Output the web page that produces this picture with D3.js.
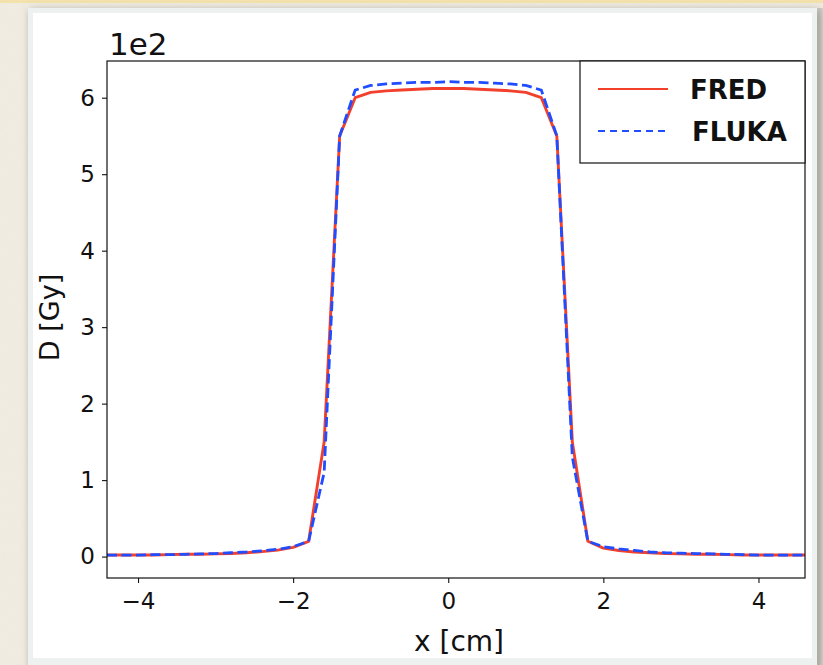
<!DOCTYPE html>
<html>
<head>
<meta charset="utf-8">
<script src="https://cdn.jsdelivr.net/npm/d3@7"></script>
<style>
  html, body { margin: 0; padding: 0; background: #f3eee4; }
  svg { display: block; }
  text { font-family: "DejaVu Sans", sans-serif; fill: #111; }
</style>
</head>
<body>
<svg id="chart" width="823" height="665"></svg>
<script>
// Lateral dose profile, dose in units of 1e2 Gy
const xPositions = [
  -4.4, -4.2, -4.0, -3.8, -3.6, -3.4, -3.2, -3.0, -2.8, -2.6,
  -2.4, -2.2, -2.0, -1.8, -1.6, -1.4, -1.2, -1.0, -0.8, -0.6,
  -0.4, -0.2, 0.0, 0.2, 0.4, 0.6, 0.8, 1.0, 1.2, 1.4,
  1.6, 1.8, 2.0, 2.2, 2.4, 2.6, 2.8, 3.0, 3.2, 3.4,
  3.6, 3.8, 4.0, 4.2, 4.4, 4.6
];
const fredDose = [
  0.02, 0.02, 0.02, 0.02, 0.025, 0.03, 0.03, 0.035, 0.04, 0.05,
  0.065, 0.085, 0.12, 0.20, 1.50, 5.50, 6.00, 6.07, 6.09, 6.10,
  6.11, 6.12, 6.12, 6.12, 6.11, 6.10, 6.09, 6.07, 6.00, 5.50,
  1.50, 0.20, 0.11, 0.08, 0.06, 0.05, 0.04, 0.035, 0.03, 0.03,
  0.025, 0.02, 0.02, 0.02, 0.02, 0.02
];
const flukaDose = [
  0.02, 0.02, 0.02, 0.025, 0.025, 0.03, 0.035, 0.04, 0.05, 0.06,
  0.075, 0.095, 0.13, 0.20, 1.10, 5.50, 6.10, 6.16, 6.18, 6.19,
  6.20, 6.20, 6.21, 6.20, 6.20, 6.19, 6.18, 6.16, 6.10, 5.50,
  1.30, 0.20, 0.13, 0.10, 0.08, 0.06, 0.05, 0.045, 0.04, 0.035,
  0.03, 0.025, 0.02, 0.02, 0.02, 0.02
];
const xTicks = [-4, -2, 0, 2, 4];
const yTicks = [0, 1, 2, 3, 4, 5, 6];
const seriesNames = ["FRED", "FLUKA"];
const seriesColors = ["#f3402d", "#1f4dff"];

const svg = d3.select("#chart");
const defs = svg.append("defs");

// paper texture for the page background
const paper = defs.append("filter").attr("id", "paper")
  .attr("x", 0).attr("y", 0).attr("width", "100%").attr("height", "100%");
paper.append("feTurbulence").attr("type", "fractalNoise")
  .attr("baseFrequency", 0.9).attr("numOctaves", 2).attr("seed", 3).attr("result", "noise");
paper.append("feColorMatrix").attr("in", "noise").attr("type", "matrix")
  .attr("values", "0 0 0 0 0.55  0 0 0 0 0.5  0 0 0 0 0.42  0 0 0 0.12 0");

const shadow = defs.append("filter").attr("id", "shadow")
  .attr("x", "-5%").attr("y", "-5%").attr("width", "110%").attr("height", "110%");
shadow.append("feDropShadow").attr("dx", 2).attr("dy", 2)
  .attr("stdDeviation", 4).attr("flood-color", "#6d6a62").attr("flood-opacity", 0.55);

const edge = defs.append("linearGradient").attr("id", "edge").attr("x1", 0).attr("x2", 1);
edge.append("stop").attr("offset", 0).attr("stop-color", "#e4e2dc");
edge.append("stop").attr("offset", 0.5).attr("stop-color", "#c9c7c1");
edge.append("stop").attr("offset", 1).attr("stop-color", "#d6d4ce");

svg.append("rect").attr("width", 823).attr("height", 665).attr("fill", "#f3eee4");
svg.append("rect").attr("width", 823).attr("height", 665).attr("filter", "url(#paper)");
svg.append("rect").attr("width", 823).attr("height", 3).attr("fill", "#f4e2ad");
svg.append("rect").attr("x", 815).attr("y", 8).attr("width", 8).attr("height", 657).attr("fill", "url(#edge)");

// card
svg.append("rect").attr("x", 28).attr("y", 8).attr("width", 789).attr("height", 660)
  .attr("fill", "#edf2f1").attr("filter", "url(#shadow)");
svg.append("rect").attr("x", 33).attr("y", 13).attr("width", 779).attr("height", 645)
  .attr("fill", "#ffffff");

// plot area
const mLeft = 107, mRight = 805, mTop = 61, mBottom = 578;
const x = d3.scaleLinear().domain([-4.4, 4.6]).range([mLeft, mRight]);
const y = d3.scaleLinear().domain([-0.28, 6.48]).range([mBottom, mTop]);

const plot = svg.append("g");
plot.append("defs").append("clipPath").attr("id", "clip")
  .append("rect").attr("x", mLeft).attr("y", mTop).attr("width", mRight - mLeft).attr("height", mBottom - mTop);

const line = d3.line().x(d => x(d[0])).y(d => y(d[1]));
const fredPts = xPositions.map((v, i) => [v, fredDose[i]]);
const flukaPts = xPositions.map((v, i) => [v, flukaDose[i]]);

const lines = plot.append("g").attr("clip-path", "url(#clip)");
lines.append("path").datum(fredPts).attr("d", line)
  .attr("fill", "none").attr("stroke", seriesColors[0]).attr("stroke-width", 2.9)
  .attr("stroke-linejoin", "round");
lines.append("path").datum(flukaPts).attr("d", line)
  .attr("fill", "none").attr("stroke", seriesColors[1]).attr("stroke-width", 2.8)
  .attr("stroke-dasharray", "10,4.5");

// axes
const xAxis = d3.axisBottom(x).tickValues(xTicks).tickSize(5).tickPadding(10)
  .tickFormat(d => d < 0 ? "\u2212" + Math.abs(d) : String(d));
const yAxis = d3.axisLeft(y).tickValues(yTicks).tickSize(5).tickPadding(7)
  .tickFormat(d3.format("d"));

const gx = svg.append("g").attr("transform", `translate(0,${mBottom})`).call(xAxis);
const gy = svg.append("g").attr("transform", `translate(${mLeft},0)`).call(yAxis);
[gx, gy].forEach(g => {
  g.select(".domain").remove();
  g.selectAll(".tick line").attr("stroke", "#111").attr("stroke-width", 1.1);
  g.selectAll(".tick text").attr("font-size", 23).attr("font-family", "DejaVu Sans").attr("fill", "#111");
});

// frame
svg.append("rect").attr("x", mLeft).attr("y", mTop).attr("width", mRight - mLeft).attr("height", mBottom - mTop)
  .attr("fill", "none").attr("stroke", "#111").attr("stroke-width", 1.2);

// labels
svg.append("text").attr("x", 109).attr("y", 55).attr("font-size", 31).text("1e2");
svg.append("text").attr("x", (mLeft + mRight) / 2 + 3).attr("y", 651).attr("text-anchor", "middle")
  .attr("font-size", 28).text("x [cm]");
svg.append("text").attr("transform", `translate(59,${(mTop + mBottom) / 2 - 2}) rotate(-90)`)
  .attr("text-anchor", "middle").attr("font-size", 27).text("D [Gy]");

// legend
const lg = svg.append("g").attr("transform", "translate(580,61)");
lg.append("rect").attr("width", 225).attr("height", 102)
  .attr("fill", "#fff").attr("stroke", "#111").attr("stroke-width", 1.2);
seriesNames.forEach((name, i) => {
  const yy = 28 + i * 42;
  lg.append("line").attr("x1", 18).attr("x2", 88).attr("y1", yy).attr("y2", yy)
    .attr("stroke", seriesColors[i]).attr("stroke-width", 2.2)
    .attr("stroke-dasharray", i === 1 ? "7,5" : null);
  lg.append("text").attr("x", 110 + i * 2).attr("y", yy + 10).attr("font-size", 26)
    .attr("font-weight", "bold").attr("font-family", "Liberation Sans, Arial, sans-serif").text(name);
});
</script>
</body>
</html>
